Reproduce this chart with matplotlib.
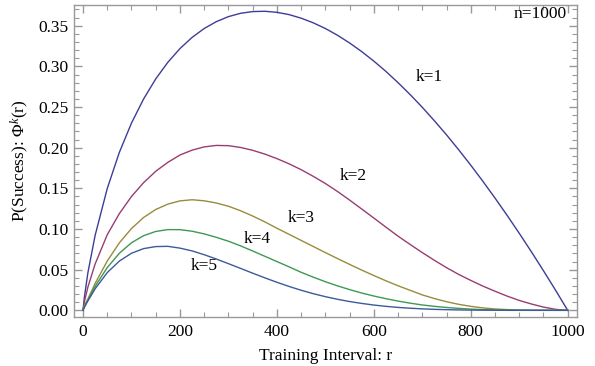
import matplotlib
matplotlib.use('Agg')
import matplotlib.pyplot as plt
from matplotlib.ticker import MultipleLocator

############################################################
# Values (n = 1000)

r = [0, 3, 10, 25, 50, 75, 100, 125, 150, 175, 200, 225, 250, 275, 300,
     325, 350, 375, 400, 425, 450, 475, 500, 525, 550, 575, 600, 625, 650,
     675, 700, 725, 750, 775, 800, 825, 850, 875, 900, 925, 950, 975, 1000]

phi_k1 = [0, 0.017, 0.046, 0.0922, 0.1498, 0.1943, 0.2303, 0.2599, 0.2846,
          0.3050, 0.3219, 0.3356, 0.3466, 0.3550, 0.3612, 0.3653, 0.3674,
          0.3678, 0.3665, 0.3637, 0.3593, 0.3536, 0.3466, 0.3383, 0.3288,
          0.3182, 0.3065, 0.2938, 0.2800, 0.2653, 0.2497, 0.2331, 0.2158,
          0.1975, 0.1785, 0.1587, 0.1381, 0.1168, 0.0948, 0.0721, 0.0487,
          0.0247, 0]
phi_k2 = [0, 0.011, 0.0285, 0.057, 0.093, 0.119, 0.140, 0.157, 0.171,
          0.182, 0.191, 0.197, 0.2010, 0.2028, 0.2025, 0.2003, 0.1968,
          0.1922, 0.1866, 0.1802, 0.1730, 0.1648, 0.1560, 0.1462, 0.1356,
          0.1246, 0.1135, 0.1023, 0.0912, 0.0810, 0.0710, 0.0615, 0.0525,
          0.0442, 0.0368, 0.0298, 0.0235, 0.0175, 0.0122, 0.0078, 0.0040,
          0.0012, 0]
phi_k3 = [0, 0.006, 0.0139, 0.0331, 0.0606, 0.083, 0.1006, 0.1142, 0.124,
          0.1306, 0.1346, 0.1360, 0.1347, 0.1320, 0.128, 0.1225, 0.116,
          0.1088, 0.101, 0.0935, 0.086, 0.0785, 0.071, 0.0637, 0.0565,
          0.0495, 0.0428, 0.0363, 0.0302, 0.0246, 0.0190, 0.0145, 0.0106,
          0.0074, 0.0049, 0.0030, 0.0017, 0.0009, 0.0004, 0.0002, 0.0001,
          0, 0]
phi_k4 = [0, 0.0045, 0.0126, 0.0295, 0.0526, 0.0702, 0.0831, 0.0918, 0.097,
          0.0993, 0.0992, 0.0973, 0.094, 0.0898, 0.085, 0.0793, 0.073,
          0.0665, 0.060, 0.0535, 0.0468, 0.0408, 0.0352, 0.0301, 0.0255,
          0.0213, 0.0176, 0.0143, 0.0114, 0.0088, 0.0066, 0.0049, 0.0035,
          0.0024, 0.0015, 0.0009, 0.0005, 0.0003, 0.0001, 0, 0, 0, 0]
phi_k5 = [0, 0.004, 0.0115, 0.0265, 0.0464, 0.0606, 0.0702, 0.0759, 0.0784,
          0.0787, 0.0765, 0.0731, 0.0684, 0.0631, 0.0574, 0.0516, 0.0457,
          0.0400, 0.0345, 0.0294, 0.0247, 0.0205, 0.0168, 0.0136, 0.0108,
          0.0085, 0.0065, 0.0049, 0.0036, 0.0026, 0.0018, 0.0012, 0.0008,
          0.0005, 0.0003, 0.0002, 0.0001, 0, 0, 0, 0, 0, 0]

curves = [phi_k1, phi_k2, phi_k3, phi_k4, phi_k5]
colours = ['#3d3d99', '#993d71', '#998b3d', '#3d9954', '#3d5a99']

# curve labels (r, value)
labels = ['k=1', 'k=2', 'k=3', 'k=4', 'k=5']
label_r = [714, 557, 451, 360, 250]
label_v = [0.287, 0.1646, 0.113, 0.0883, 0.0551]

############################################################
# Plotting

plt.rcParams['font.family'] = ['Liberation Serif', 'DejaVu Serif']
plt.rcParams['mathtext.fontset'] = 'custom'
plt.rcParams['mathtext.rm'] = 'Liberation Serif'
plt.rcParams['mathtext.it'] = 'Liberation Serif:italic'

fig = plt.figure(figsize=(5.95, 3.66), dpi=100)
ax = fig.add_axes([74 / 595, 1 - 317 / 366, (577 - 74) / 595, (317 - 5) / 366])

for vals, col in zip(curves, colours):
    ax.plot(r, vals, c=col, lw=1.0)

for txt, xr, yv in zip(labels, label_r, label_v):
    ax.text(xr, yv, txt, fontsize=12.5, ha='center', va='center')
ax.text(998, 0.3645, 'n=1000', fontsize=12.5, ha='right', va='center')

ax.set_xlim(-18.6, 1019.2)
ax.set_ylim(-0.0082, 0.3755)

ax.xaxis.set_major_locator(MultipleLocator(200))
ax.xaxis.set_minor_locator(MultipleLocator(50))
ax.yaxis.set_major_locator(MultipleLocator(0.05))
ax.yaxis.set_minor_locator(MultipleLocator(0.01))
ax.yaxis.set_major_formatter(plt.FuncFormatter(lambda v, p: '%.2f' % v))

grey = '#999999'
for s in ax.spines.values():
    s.set_color(grey)
    s.set_linewidth(1.0)
ax.tick_params(which='both', direction='in', top=True, right=True,
               color=grey, labelsize=12.5, labelcolor='k')
ax.tick_params(which='major', length=6, width=1.0)
ax.tick_params(which='minor', length=3.5, width=0.8)
ax.tick_params(axis='x', pad=5)
ax.tick_params(axis='y', pad=4)

ax.set_xlabel('Training Interval: r', size=12.5, labelpad=6)
ax.set_ylabel(r'P(Success): Φ$^{k}$(r)', size=12.5, labelpad=5)

plt.savefig('out.png', dpi=100)
